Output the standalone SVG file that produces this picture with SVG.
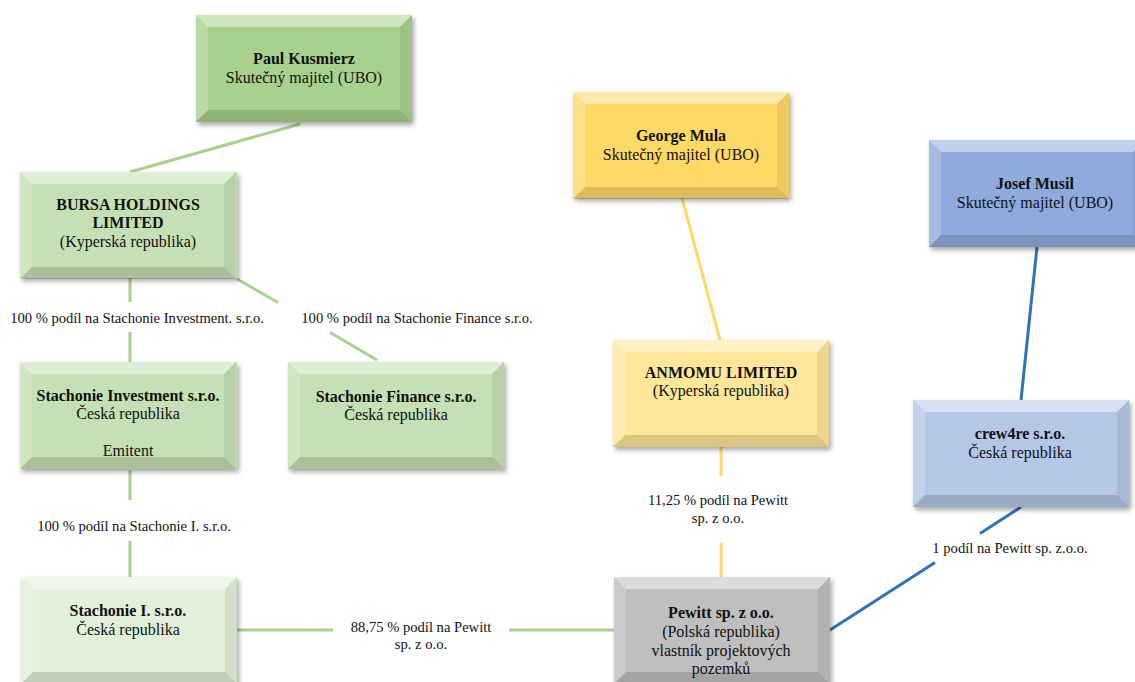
<svg xmlns="http://www.w3.org/2000/svg" xmlns:xlink="http://www.w3.org/1999/xlink" width="1135" height="682" viewBox="0 0 1135 682">
<style>
  text { font-family: "Liberation Serif", "Times New Roman", serif; fill: #111; text-anchor: middle; }
  .nt { font-size: 16px; }
  .b { font-weight: bold; }
  .lbl { font-size: 14.6px; }
  .face { filter: url(#shadow); }
  .g1 { fill: #A9D18E; }
  .g2 { fill: #C5E0B4; }
  .g3 { fill: #E2F0D9; }
  .y1 { fill: #FFD966; }
  .y2 { fill: #FFE699; }
  .b1 { fill: #8FAADC; }
  .b2 { fill: #B4C7E7; }
  .gr { fill: #BFBFBF; }
  .cg { stroke: #A9D18E; stroke-width: 3; fill: none; }
  .cy { stroke: #FFD966; stroke-width: 3; fill: none; }
  .cb { stroke: #2E75B6; stroke-width: 3; fill: none; }
</style>
<defs>
  <filter id="shadow" x="-10%" y="-10%" width="125%" height="130%">
    <feDropShadow dx="2" dy="3" stdDeviation="2.5" flood-color="#000" flood-opacity="0.35"/>
  </filter>
  <g id="bevel">
    <polygon points="0,0 216,0 204,12 12,12" fill="#fff" fill-opacity="0.45"/>
    <polygon points="0,0 12,12 12,95 0,107" fill="#fff" fill-opacity="0.2"/>
    <polygon points="216,0 216,107 204,95 204,12" fill="#000" fill-opacity="0.07"/>
    <polygon points="0,107 216,107 204,95 12,95" fill="#000" fill-opacity="0.14"/>
  </g>
</defs>
<rect width="1135" height="682" fill="#fff"/>

<g id="connectors">
  <line class="cg" x1="300" y1="124" x2="130" y2="172"/>
  <line class="cg" x1="130" y1="278" x2="130" y2="302"/>
  <line class="cg" x1="130" y1="332" x2="130" y2="362"/>
  <line class="cg" x1="237" y1="279" x2="278" y2="302.5"/>
  <line class="cg" x1="330" y1="332.5" x2="377" y2="360"/>
  <line class="cg" x1="130" y1="470" x2="130" y2="500"/>
  <line class="cg" x1="130" y1="541" x2="130" y2="577"/>
  <line class="cg" x1="237" y1="630" x2="333" y2="630"/>
  <line class="cg" x1="509" y1="630" x2="614" y2="630"/>
  <line class="cy" x1="682" y1="198" x2="720" y2="340"/>
  <line class="cy" x1="721" y1="447" x2="721" y2="476"/>
  <line class="cy" x1="721" y1="543" x2="721" y2="577"/>
  <line class="cb" x1="1037" y1="247" x2="1021" y2="400"/>
  <line class="cb" x1="1021" y1="507" x2="980" y2="533.4"/>
  <line class="cb" x1="935" y1="562.4" x2="830" y2="630"/>
  <text class="lbl" x="137" y="323">100 % podíl na Stachonie Investment. s.r.o.</text>
  <text class="lbl" x="417" y="323">100 % podíl na Stachonie Finance s.r.o.</text>
  <text class="lbl" x="134" y="531">100 % podíl na Stachonie I. s.r.o.</text>
  <text class="lbl" x="421" y="632">88,75 % podíl na Pewitt</text>
  <text class="lbl" x="421" y="649">sp. z o.o.</text>
  <text class="lbl" x="718" y="505">11,25 % podíl na Pewitt</text>
  <text class="lbl" x="718" y="523">sp. z o.o.</text>
  <text class="lbl" x="1010" y="553">1 podíl na Pewitt sp. z.o.o.</text>
</g>

<g id="paul" transform="translate(196,15)">
  <rect class="face g1" width="216" height="107"/>
  <use xlink:href="#bevel"/>
  <text class="nt b" x="108" y="49">Paul Kusmierz</text>
  <text class="nt" x="108" y="68">Skutečný majitel (UBO)</text>
</g>

<g id="bursa" transform="translate(20,172)">
  <rect class="face g2" width="217" height="106"/>
  <use xlink:href="#bevel"/>
  <text class="nt b" x="108" y="38">BURSA HOLDINGS</text>
  <text class="nt b" x="108" y="56">LIMITED</text>
  <text class="nt" x="108" y="75">(Kyperská republika)</text>
</g>

<g id="stachonie-investment" transform="translate(20,362)">
  <rect class="face g2" width="217" height="107"/>
  <use xlink:href="#bevel"/>
  <text class="nt b" x="108" y="39">Stachonie Investment s.r.o.</text>
  <text class="nt" x="108" y="57">Česká republika</text>
  <text class="nt" x="108" y="94">Emitent</text>
</g>

<g id="stachonie-finance" transform="translate(288,362)">
  <rect class="face g2" width="216" height="107"/>
  <use xlink:href="#bevel"/>
  <text class="nt b" x="108" y="40">Stachonie Finance s.r.o.</text>
  <text class="nt" x="108" y="58">Česká republika</text>
</g>

<g id="stachonie-i" transform="translate(21,577)">
  <rect class="face g3" width="216" height="107"/>
  <use xlink:href="#bevel"/>
  <text class="nt b" x="107" y="39">Stachonie I. s.r.o.</text>
  <text class="nt" x="107" y="58">Česká republika</text>
</g>

<g id="george" transform="translate(573,92)">
  <rect class="face y1" width="216" height="106"/>
  <use xlink:href="#bevel"/>
  <text class="nt b" x="108" y="49">George Mula</text>
  <text class="nt" x="108" y="68">Skutečný majitel (UBO)</text>
</g>

<g id="anmomu" transform="translate(613,340)">
  <rect class="face y2" width="216" height="107"/>
  <use xlink:href="#bevel"/>
  <text class="nt b" x="108" y="38">ANMOMU LIMITED</text>
  <text class="nt" x="108" y="56">(Kyperská republika)</text>
</g>

<g id="josef" transform="translate(929,140)">
  <rect class="face b1" width="216" height="107"/>
  <use xlink:href="#bevel"/>
  <text class="nt b" x="106" y="49">Josef Musil</text>
  <text class="nt" x="106" y="68">Skutečný majitel (UBO)</text>
</g>

<g id="crew4re" transform="translate(913,400)">
  <rect class="face b2" width="216" height="107"/>
  <use xlink:href="#bevel"/>
  <text class="nt b" x="107" y="39">crew4re s.r.o.</text>
  <text class="nt" x="107" y="58">Česká republika</text>
</g>

<g id="pewitt" transform="translate(614,577)">
  <rect class="face gr" width="216" height="107"/>
  <use xlink:href="#bevel"/>
  <text class="nt b" x="107" y="41">Pewitt sp. z o.o.</text>
  <text class="nt" x="107" y="60">(Polská republika)</text>
  <text class="nt" x="107" y="79">vlastník projektových</text>
  <text class="nt" x="107" y="97">pozemků</text>
</g>
</svg>
